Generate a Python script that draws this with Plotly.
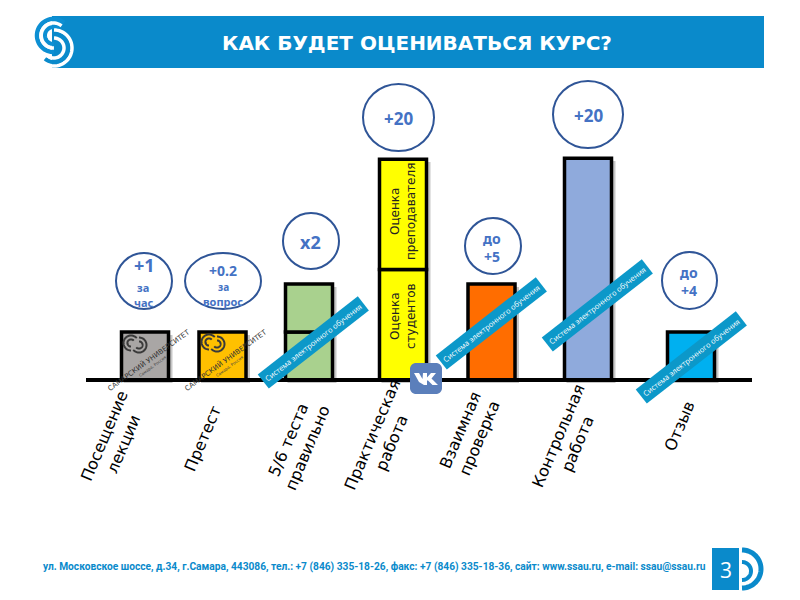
import numpy as np
import plotly.graph_objects as go

# Данные диаграммы
categories = ["Посещение<br>лекции", "Претест", "5/6 теста<br>правильно", "Практическая<br>работа",
              "Взаимная<br>проверка", "Контрольная<br>работа", "Отзыв"]
lower_values = [1, 1, 1, 2.3, 2, 4.62, 1]
upper_values = [None, None, 1, 2.3, None, None, None]
bar_colors = ["#a9a6a5", "#ffc000", "#a9d18e", "#ffff00", "#ff6d00", "#8faadc", "#00b0f0"]
bubble_texts = [["+1", "за", "час"], ["+0.2", "за", "вопрос"], ["x2"], ["+20"], ["до", "+5"], ["+20"], ["до", "+4"]]
segment_texts = ["Оценка<br>студентов", "Оценка<br>преподавателя"]
title_text = "КАК БУДЕТ ОЦЕНИВАТЬСЯ КУРС?"
banner_text = "Система электронного обучения"
footer_text = ("ул. Московское шоссе, д.34, г.Самара, 443086, тел.: +7 (846) 335-18-26, "
               "факс: +7 (846) 335-18-36, сайт: www.ssau.ru, e-mail: ssau@ssau.ru")
page_number = "3"

# Разметка слайда (пиксели страницы)
BASE_PX = 380
UNIT_PX = 48
BLUE = "#0a8acb"
BANNER = "#0c98c9"
bar_x = [145, 222.5, 309, 403, 491.5, 588, 691]
bubbles = [(116, 253, 172, 309), (185, 253, 261, 309), (283, 213, 339, 269), (363, 84, 434, 151),
           (465, 218, 521, 274), (553, 81, 623, 148), (662, 252, 717, 309)]
bubble_lines = [[(144, 265, 18), (143, 287, 11), (144, 302, 11)], [(223, 270, 14), (223, 287, 10), (223, 301, 11)],
                [(310, 242, 18)], [(398, 118, 17)], [(492, 238, 14), (492, 256, 14)], [(588, 115, 17)],
                [(689, 272, 14), (689, 290, 14)]]
label_xy = [(114, 440), (202, 439), (298, 444), (382, 439), (470, 434), (568, 440), (679, 426)]
banners = [(313, 342), (491, 323), (597, 305), (691, 357)]


def yv(py):
    return (BASE_PX - py) / UNIT_PX


def poly_path(points, close=False):
    parts = [f"{'M' if i == 0 else 'L'}{x:.2f},{yv(y):.4f}" for i, (x, y) in enumerate(points)]
    return " ".join(parts) + (" Z" if close else "")


def arc(cx, cy, r, a0, a1):
    t = np.radians(np.linspace(a0, a1, 40))
    return list(zip(cx + r * np.cos(t), cy - r * np.sin(t)))


def stroke(points, color, width):
    return dict(type="path", path=poly_path(points), xref="x", yref="y",
                line=dict(color=color, width=width), fillcolor="rgba(0,0,0,0)")


shapes = []
# шапка
shapes.append(dict(type="rect", x0=52, x1=764, y0=yv(16), y1=yv(68), xref="x", yref="y",
                   fillcolor=BLUE, line_width=0, layer="below"))

# логотип в шапке
for r, w, col in [(16.5, 4.5, "#0d8fd3"), (12.5, 3.5, "white"), (8.5, 4, "#0d8fd3")]:
    shapes.append(stroke(arc(53.5, 35.5, r, 50, 272), col, w))
for r, w, col in [(18, 3.5, "white"), (14, 4, BLUE), (10, 3.5, "white")]:
    shapes.append(stroke(arc(54, 48, r, 90, -130), col, w))

# круги с баллами
for x0, y0, x1, y1 in bubbles:
    shapes.append(dict(type="circle", x0=x0, x1=x1, y0=yv(y0), y1=yv(y1), xref="x", yref="y",
                       line=dict(color="#2f5597", width=2), fillcolor="rgba(0,0,0,0)"))

# базовая линия
shapes.append(dict(type="line", x0=86, x1=752, y0=0, y1=0, xref="x", yref="y", line=dict(color="black", width=4)))

# значок ВК
vk_box = (arc(436, 369, 6, 90, 0) + arc(436, 388, 6, 0, -90) + arc(416, 388, 6, -90, -180) + arc(416, 369, 6, 180, 90))
shapes.append(dict(type="path", xref="x", yref="y", fillcolor="#5b7fbb", line_width=0, path=poly_path(vk_box, True)))
vk = [(-12, -6), (-7, -6), (-3.5, 0), (-3, -6), (1, -6), (1, -1.5), (5, -6), (10, -6), (5.5, -0.5),
      (12, 6), (6.5, 6), (2, 1.5), (1, 1.5), (1, 6), (-2, 6), (-7, 3)]
shapes.append(dict(type="path", xref="x", yref="y", fillcolor="white", line_width=0,
                   path=poly_path([(426 + x, 379 + y) for x, y in vk], True)))

# знаки на плашках посещения и претеста
for cx, cy in [(135, 344), (213, 343)]:
    for r in (7.5, 3.6):
        shapes.append(stroke(arc(cx - 4, cy - 1, r, 40, 270), "#3a3a3a", 2))
        shapes.append(stroke(arc(cx + 4, cy + 1, r, -140, 90), "#3a3a3a", 2))

# нижний колонтитул
shapes.append(dict(type="rect", x0=712, x1=739, y0=yv(548), y1=yv(590), xref="x", yref="y",
                   fillcolor=BLUE, line_width=0))
shapes.append(stroke(arc(742, 569, 19, 90, -90), BLUE, 5))
shapes.append(stroke(arc(742, 571, 9, 90, -90), BLUE, 4))

annotations = []


def note(x, py, text, size, color="black", family="DejaVu Sans", **kw):
    annotations.append(dict(x=x, y=yv(py), xref="x", yref="y", text=text, showarrow=False,
                            font=dict(size=size, color=color, family=family), **kw))


for text, (x, py) in zip(categories, label_xy):
    note(x, py, text, 16, textangle=-67)
for words, lines in zip(bubble_texts, bubble_lines):
    for word, (x, py, size) in zip(words, lines):
        note(x, py, f"<b>{word}</b>", size, color="#4472c4", family="Noto Sans")
note(403, 316, segment_texts[0], 12, color="#222222", textangle=-90)
note(403, 212, segment_texts[1], 12, color="#222222", textangle=-90)
for x, py in [(148, 360), (225, 360)]:
    note(x, py, "САМАРСКИЙ УНИВЕРСИТЕТ", 7, color="#333333", textangle=-36)
    note(x + 4, py + 6, "Самара, Россия", 4, color="#444444", textangle=-36)
for x, py in banners:
    note(x, py, banner_text, 7.5, color="white", family="Open Sans", textangle=-38,
         bgcolor=BANNER, width=124, height=15, borderpad=1)
note(374.5, 567, f"<b>{footer_text}</b>", 10.2, color=BLUE, family="Roboto")
note(725.5, 570, page_number, 21, color="white", family="Open Sans")

fig = go.Figure()
# тени столбиков
fig.add_trace(go.Bar(x=[x + 3 for x in bar_x], y=lower_values, base=-0.06, width=49, showlegend=False,
                     marker=dict(color="rgba(0,0,0,0.22)", line_width=0)))
fig.add_trace(go.Bar(x=[x + 3 for x in bar_x], y=upper_values, base=[v - 0.06 for v in lower_values], width=49,
                     showlegend=False, marker=dict(color="rgba(0,0,0,0.22)", line_width=0)))
fig.add_trace(go.Bar(x=bar_x, y=lower_values, width=47, showlegend=False,
                     marker=dict(color=bar_colors, line=dict(color="black", width=3.5))))
fig.add_trace(go.Bar(x=bar_x, y=upper_values, base=lower_values, width=47, showlegend=False,
                     marker=dict(color=bar_colors, line=dict(color="black", width=3.5))))

fig.update_layout(
    width=800, height=600, margin=dict(l=0, r=0, t=0, b=0),
    barmode="overlay", paper_bgcolor="white", plot_bgcolor="white",
    title=dict(text=f"<b>{title_text}</b>", x=417 / 800, y=1 - 43 / 600, xanchor="center", yanchor="middle",
               font=dict(size=20, color="white", family="DejaVu Sans")),
    xaxis=dict(range=[0, 800], visible=False, fixedrange=True),
    yaxis=dict(range=[yv(600), yv(0)], visible=False, fixedrange=True),
    shapes=shapes, annotations=annotations,
)

fig.write_html("out.html", config={"displayModeBar": False}, post_script="document.body.style.margin='0';")
